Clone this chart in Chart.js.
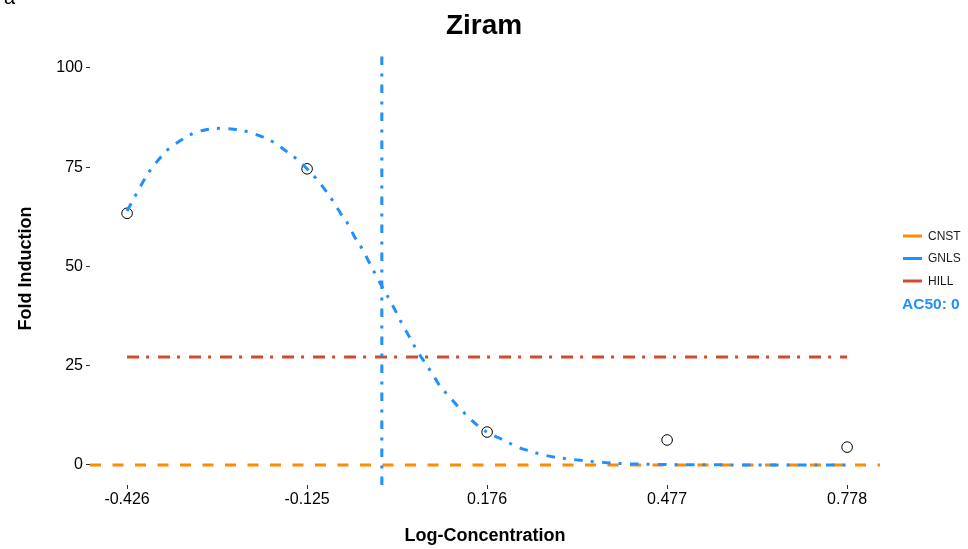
<!DOCTYPE html>
<html>
<head>
<meta charset="utf-8">
<script src="https://cdn.jsdelivr.net/npm/chart.js@4.4.1/dist/chart.umd.min.js"></script>
<style>
  html, body { margin: 0; padding: 0; background: #ffffff; }
  #wrap { position: relative; width: 968px; height: 549px; }
  canvas { display: block; }
</style>
</head>
<body>
<div id="wrap"><canvas id="c" width="968" height="549"></canvas></div>
<script>
// ---------------- data ----------------
const chartTitle = 'Ziram';
const xTitle = 'Log-Concentration';
const yTitle = 'Fold Induction';
const xTickValues = [-0.426, -0.125, 0.176, 0.477, 0.778];
const xTickLabels = ['-0.426', '-0.125', '0.176', '0.477', '0.778'];
const yTickValues = [0, 25, 50, 75, 100];
const xRange = [-0.488, 0.833];
const yRange = [-5.04, 104.03];

const concentrations = [-0.426, -0.125, 0.176, 0.477, 0.778];
const responses = [63.4, 74.6, 8.3, 6.3, 4.5];

const cnstValue = 0;
const hillValue = 27.2;
const ac50Value = 0;
const ac50Label = 'AC50: 0';

const gnlsX = [-0.426, -0.413, -0.389, -0.374, -0.359, -0.340, -0.319, -0.296, -0.272, -0.248,
               -0.226, -0.204, -0.181, -0.162, -0.142, -0.125, -0.109, -0.093, -0.081, -0.069,
               -0.055, -0.045, -0.032, -0.021, -0.010, 0.002, 0.013, 0.025, 0.035, 0.046,
               0.058, 0.067, 0.084, 0.097, 0.113, 0.130, 0.145, 0.164, 0.177, 0.203,
               0.226, 0.251, 0.271, 0.297, 0.319, 0.343, 0.365, 0.393, 0.421, 0.443,
               0.480, 0.530, 0.580, 0.630, 0.680, 0.730, 0.778];
const gnlsY = [64.0, 67.6, 73.9, 76.8, 79.3, 81.4, 83.3, 84.4, 84.8, 84.6,
               84.0, 82.9, 81.3, 79.3, 77.0, 74.6, 72.0, 68.9, 66.3, 63.4,
               60.3, 57.3, 54.2, 51.0, 47.8, 44.5, 41.6, 38.2, 35.2, 32.3,
               29.0, 26.9, 23.1, 19.9, 17.2, 14.3, 12.0, 9.5, 8.2, 6.3,
               4.6, 3.35, 2.5, 1.8, 1.4, 1.0, 0.7, 0.4, 0.25, 0.18,
               0.1, 0.05, 0.03, 0.015, 0.01, 0.0, 0.0];

const legendNames = ['CNST', 'GNLS', 'HILL'];
const colors = { CNST: '#FF8C00', GNLS: '#1E90FF', HILL: '#D2492E' };

// ---------------- chart ----------------
const FONT = "'Liberation Sans', Arial, Helvetica, sans-serif";

const legendPlugin = {
  id: 'sideLegend',
  afterDraw(chart) {
    const ctx = chart.ctx;
    ctx.save();
    const x0 = 903, x1 = 922, tx = 928;
    const ys = [236, 258.5, 281];
    ctx.font = '12px ' + FONT;
    ctx.textBaseline = 'middle';
    ctx.textAlign = 'left';
    legendNames.forEach((name, i) => {
      ctx.strokeStyle = colors[name];
      ctx.lineWidth = 3;
      ctx.setLineDash([]);
      ctx.beginPath();
      ctx.moveTo(x0, ys[i]);
      ctx.lineTo(x1, ys[i]);
      ctx.stroke();
      ctx.fillStyle = '#1a1a1a';
      ctx.fillText(name, tx, ys[i] + 0.5);
    });
    ctx.font = 'bold 15.5px ' + FONT;
    ctx.fillStyle = colors.GNLS;
    ctx.fillText(ac50Label, 902, 305);
    // panel letter (cut at the top edge)
    ctx.font = '20px ' + FONT;
    ctx.fillStyle = '#000';
    ctx.textBaseline = 'alphabetic';
    ctx.fillText('a', 4, 4);
    ctx.restore();
  }
};

const ctx = document.getElementById('c').getContext('2d');
new Chart(ctx, {
  type: 'scatter',
  data: {
    datasets: [
      {
        label: 'CNST',
        data: xRange.map(x => ({ x: x, y: cnstValue })),
        showLine: true,
        borderColor: colors.CNST,
        borderWidth: 3,
        borderDash: [11, 11.5],
        pointRadius: 0,
        order: 4
      },
      {
        label: 'HILL',
        data: [
          { x: concentrations[0], y: hillValue },
          { x: concentrations[concentrations.length - 1], y: hillValue }
        ],
        showLine: true,
        borderColor: colors.HILL,
        borderWidth: 3,
        borderDash: [12, 7, 3, 9],
        pointRadius: 0,
        order: 3
      },
      {
        label: 'GNLS',
        data: gnlsX.map((x, i) => ({ x: x, y: gnlsY[i] })),
        showLine: true,
        borderColor: colors.GNLS,
        borderWidth: 3,
        borderDash: [8.5, 8, 3, 8.5],
        cubicInterpolationMode: 'monotone',
        pointRadius: 0,
        order: 2
      },
      {
        label: 'AC50',
        data: yRange.map(y => ({ x: ac50Value, y: y })),
        showLine: true,
        borderColor: colors.GNLS,
        borderWidth: 3,
        borderDash: [8.5, 8, 3, 8.5],
        pointRadius: 0,
        order: 1
      },
      {
        label: 'Observed',
        data: concentrations.map((x, i) => ({ x: x, y: responses[i] })),
        showLine: false,
        pointRadius: 5.3,
        pointStyle: 'circle',
        pointBackgroundColor: 'rgba(0,0,0,0)',
        pointBorderColor: '#000',
        pointBorderWidth: 1,
        order: 6
      }
    ]
  },
  options: {
    responsive: false,
    animation: false,
    events: [],
    layout: { padding: { left: 0, right: 0, top: 0, bottom: 0 } },
    plugins: {
      legend: { display: false },
      tooltip: { enabled: false },
      title: {
        display: true,
        text: chartTitle,
        color: '#000',
        font: { family: FONT, size: 28, weight: 'bold' },
        padding: { top: 9, bottom: 9.4 }
      }
    },
    scales: {
      x: {
        type: 'linear',
        min: xRange[0],
        max: xRange[1],
        afterFit(scale) { scale.height = 64; },
        afterBuildTicks(scale) { scale.ticks = xTickValues.map(v => ({ value: v })); },
        ticks: {
          color: '#000',
          font: { family: FONT, size: 16 },
          padding: 1,
          maxRotation: 0,
          autoSkip: false,
          callback(value) {
            const idx = xTickValues.indexOf(value);
            return idx >= 0 ? xTickLabels[idx] : '';
          }
        },
        grid: { display: true, drawOnChartArea: false, drawTicks: true, tickLength: 4, color: '#333', lineWidth: 1 },
        border: { display: false },
        title: {
          display: true,
          text: xTitle,
          color: '#000',
          font: { family: FONT, size: 18, weight: 'bold' },
          padding: { top: 0, bottom: 2 }
        }
      },
      y: {
        type: 'linear',
        position: 'left',
        min: yRange[0],
        max: yRange[1],
        afterFit(scale) { scale.width = 90; },
        afterBuildTicks(scale) { scale.ticks = yTickValues.map(v => ({ value: v })); },
        ticks: {
          color: '#000',
          font: { family: FONT, size: 16 },
          padding: 3,
          callback(value) { return String(value); }
        },
        grid: { display: true, drawOnChartArea: false, drawTicks: true, tickLength: 4, color: '#333', lineWidth: 1 },
        border: { display: false },
        title: {
          display: true,
          text: yTitle,
          color: '#000',
          font: { family: FONT, size: 18, weight: 'bold' },
          padding: { top: 15, bottom: 0 }
        }
      },
      legendSpace: {
        type: 'linear',
        position: 'right',
        display: true,
        min: 0,
        max: 1,
        afterFit(scale) { scale.width = 88; },
        ticks: { display: false },
        grid: { display: false, drawTicks: false },
        border: { display: false },
        title: { display: false }
      }
    }
  },
  plugins: [legendPlugin]
});
</script>
</body>
</html>
